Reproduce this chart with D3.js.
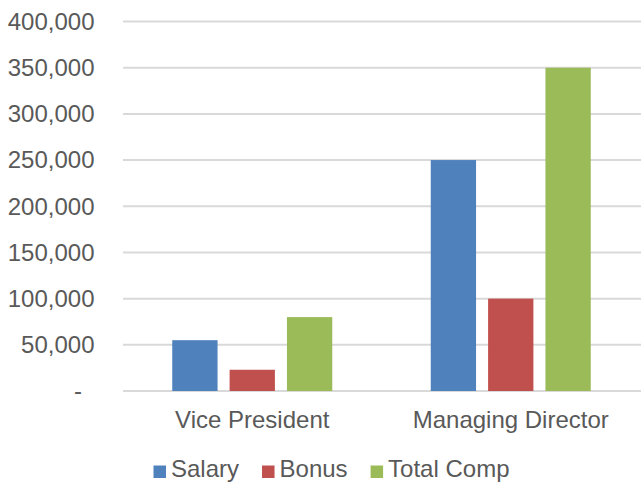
<!DOCTYPE html>
<html>
<head>
<meta charset="utf-8">
<script src="https://cdn.jsdelivr.net/npm/d3@7"></script>
<style>
  html, body { margin: 0; padding: 0; background: #fff; }
  text { font-family: "Liberation Sans", Arial, sans-serif; fill: #595959; }
</style>
</head>
<body>
<div id="chart"></div>
<script>
const categories = ['Vice President', 'Managing Director'];
const seriesNames = ['Salary', 'Bonus', 'Total Comp'];
const seriesColors = ['#4f81bd', '#c0504d', '#9bbb59'];
const salary = [55000, 250000];
const bonus = [23000, 100000];
const totalComp = [80000, 350000];
const yTicks = [0, 50000, 100000, 150000, 200000, 250000, 300000, 350000, 400000];

const seriesValues = [salary, bonus, totalComp];

const width = 641;
const height = 484;
const fontSize = 24;

const svg = d3.select('#chart')
    .append('svg')
    .attr('width', width)
    .attr('height', height);

// plot area
const x0 = d3.scaleBand()
    .domain(categories)
    .range([123, 640])
    .paddingInner(0.381)
    .paddingOuter(0.1905);

const x1 = d3.scaleBand()
    .domain(seriesNames)
    .range([0, x0.bandwidth()])
    .paddingInner(0.21);

const y = d3.scaleLinear()
    .domain([0, 400000])
    .range([391, 21.5]);

// gridlines
svg.append('g')
    .selectAll('line')
    .data(yTicks)
    .enter().append('line')
    .attr('x1', 123)
    .attr('x2', 641)
    .attr('y1', d => y(d))
    .attr('y2', d => y(d))
    .attr('stroke', '#d9d9d9')
    .attr('stroke-width', 2);

// y tick labels
const fmt = d3.format(',');
svg.append('g')
    .selectAll('text')
    .data(yTicks)
    .enter().append('text')
    .attr('x', d => d === 0 ? 82 : 94.5)
    .attr('y', d => y(d))
    .attr('dy', '0.35em')
    .attr('text-anchor', 'end')
    .style('font-size', fontSize + 'px')
    .text(d => d === 0 ? '-' : fmt(d));

// bars
const groups = svg.append('g')
    .selectAll('g')
    .data(categories)
    .enter().append('g')
    .attr('transform', d => `translate(${x0(d)},0)`);

groups.selectAll('rect')
    .data((d, ci) => seriesNames.map((s, si) => ({ series: s, value: seriesValues[si][ci], color: seriesColors[si] })))
    .enter().append('rect')
    .attr('x', d => x1(d.series))
    .attr('width', x1.bandwidth())
    .attr('y', d => y(d.value))
    .attr('height', d => y(0) - y(d.value))
    .attr('fill', d => d.color);

// category labels
svg.append('g')
    .selectAll('text')
    .data(categories)
    .enter().append('text')
    .attr('x', d => x0(d) + x0.bandwidth() / 2)
    .attr('y', 428)
    .attr('text-anchor', 'middle')
    .style('font-size', fontSize + 'px')
    .text(d => d);

// legend
const legend = svg.append('g').attr('class', 'legend');
let lx = 153.5;
seriesNames.forEach((name, i) => {
    legend.append('rect')
        .attr('x', lx)
        .attr('y', 465.5)
        .attr('width', 12.5)
        .attr('height', 12.5)
        .attr('fill', seriesColors[i]);
    const t = legend.append('text')
        .attr('x', lx + 17.5)
        .attr('y', 477)
        .style('font-size', fontSize + 'px')
        .text(name);
    lx += 17.5 + t.node().getComputedTextLength() + 23;
});
</script>
</body>
</html>
